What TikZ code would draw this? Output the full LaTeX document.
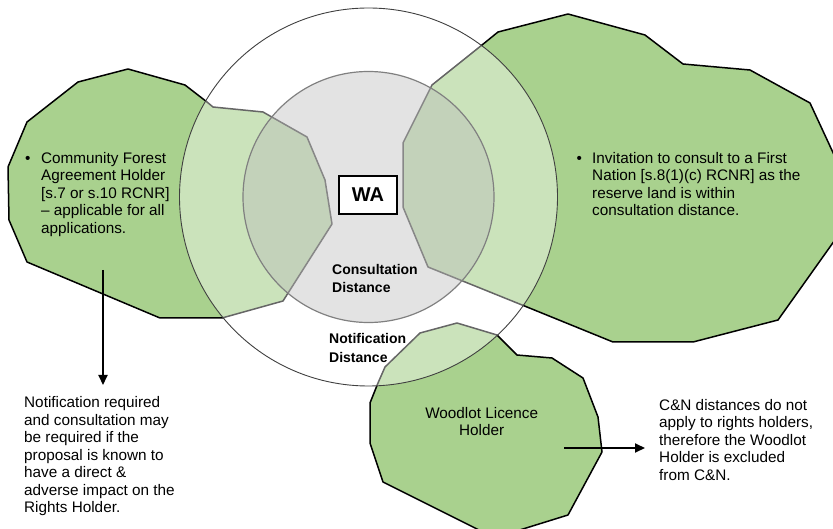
\documentclass[tikz,border=0pt]{standalone}
\usepackage{fontspec}
\setmainfont{Liberation Sans}
\usetikzlibrary{arrows.meta}

\definecolor{parcelgreen}{RGB}{169,209,142}
\definecolor{ringgray}{RGB}{185,185,185}
\definecolor{outerline}{RGB}{64,64,64}
\definecolor{innerline}{RGB}{128,128,128}

\newcommand{\bodyfont}{\fontsize{15.3}{17.5}\selectfont}
\newcommand{\labelfont}{\fontsize{14}{18.7}\selectfont\bfseries}

\tikzset{
  parcel/.style={fill=parcelgreen, draw=black, line width=1.5pt, line join=round},
  notifyring/.style={fill=white, fill opacity=0.4, draw=outerline, draw opacity=1, line width=0.9pt},
  consultring/.style={fill=ringgray, fill opacity=0.4, draw=innerline, draw opacity=1, line width=1.2pt},
  wabox/.style={draw=black, fill=white, line width=2pt, minimum width=58pt, minimum height=38pt,
    inner sep=0pt, font=\fontsize{20}{24}\selectfont\bfseries},
  txt/.style={inner sep=0pt, anchor=north west, font=\bodyfont},
  ringlabel/.style={inner sep=0pt, anchor=north west, font=\labelfont},
  pointer/.style={draw=black, line width=2pt, -{Triangle[length=10pt,width=9pt]}}
}

\begin{document}
\begin{tikzpicture}[x=1pt, y=-1pt]
\useasboundingbox (0,0) rectangle (833,529);
\clip (0,0) rectangle (833,529);

% Community forest agreement area (left)
\draw[parcel] (128,69) -- (185,85) -- (207,102) -- (213,107) -- (263,112) -- (307,137)
  -- (325,180) -- (332,224) -- (283,301) -- (222,318) -- (160,318) -- (27,262)
  -- (9,220) -- (8,167) -- (27,122) -- (78,82) -- cycle;

% First Nation reserve land (right)
\draw[parcel] (482,45) -- (498,32) -- (568,14) -- (645,35) -- (683,64) -- (750,70)
  -- (810,103) -- (842,172) -- (842,230) -- (778,320) -- (693,342) -- (613,342)
  -- (527,307) -- (428,267) -- (403,207) -- (403,143) -- (432,85) -- cycle;

% Woodlot licence area (bottom)
\draw[parcel] (457,323) -- (497,335) -- (517,355) -- (552,358) -- (583,378) -- (598,417)
  -- (602,452) -- (568,515) -- (510,533) -- (485,533) -- (383,482) -- (370,443)
  -- (370,403) -- (378,383) -- (385,367) -- (420,333) -- cycle;

% Notification and consultation distances
\draw[notifyring] (368.5,197) circle[radius=189];
\draw[consultring] (368.5,197) circle[radius=125.5];

% Works area
\node[wabox] (wa) at (368,195) {WA};

\node[ringlabel] (consult) at (332,260.9) {\begin{tabular}{@{}l@{}}Consultation\\Distance\end{tabular}};
\node[ringlabel] (notify) at (329,330.2) {\begin{tabular}{@{}l@{}}Notification\\Distance\end{tabular}};

% Holder descriptions
\node[txt] (cfa) at (24.8,150.75) {\begin{tabular}{@{}p{16.2pt}@{}l@{}}
  \textbullet & Community Forest\\
  & Agreement Holder\\
  & [s.7 or s.10 RCNR]\\
  & – applicable for all\\
  & applications.
\end{tabular}};

\node[txt] (fn) at (576.3,151) {\begin{tabular}{@{}p{15.7pt}@{}l@{}}
  \textbullet & Invitation to consult to a First\\
  & Nation [s.8(1)(c) RCNR] as the\\
  & reserve land is within\\
  & consultation distance.
\end{tabular}};

\node[txt, anchor=north] (woodlot) at (481.7,406) {\begin{tabular}{@{}c@{}}
  Woodlot Licence\\ Holder
\end{tabular}};

\node[txt] (cfanote) at (24,395.4) {\begin{tabular}{@{}l@{}}
  Notification required\\
  and consultation may\\
  be required if the\\
  proposal is known to\\
  have a direct \&\\
  adverse impact on the\\
  Rights Holder.
\end{tabular}};

\node[txt] (wlnote) at (659,398) {\begin{tabular}{@{}l@{}}
  C\&N distances do not\\
  apply to rights holders,\\
  therefore the Woodlot\\
  Holder is excluded\\
  from C\&N.
\end{tabular}};

% Pointers from the holder areas to their notes
\coordinate (cfaTail) at (103,270);
\coordinate (cfaHead) at (103,385);
\coordinate (wlTail) at (564,448);
\coordinate (wlHead) at (645,448);
\draw[pointer] (cfaTail) -- (cfaHead);
\draw[pointer] (wlTail) -- (wlHead);
\end{tikzpicture}
\end{document}
